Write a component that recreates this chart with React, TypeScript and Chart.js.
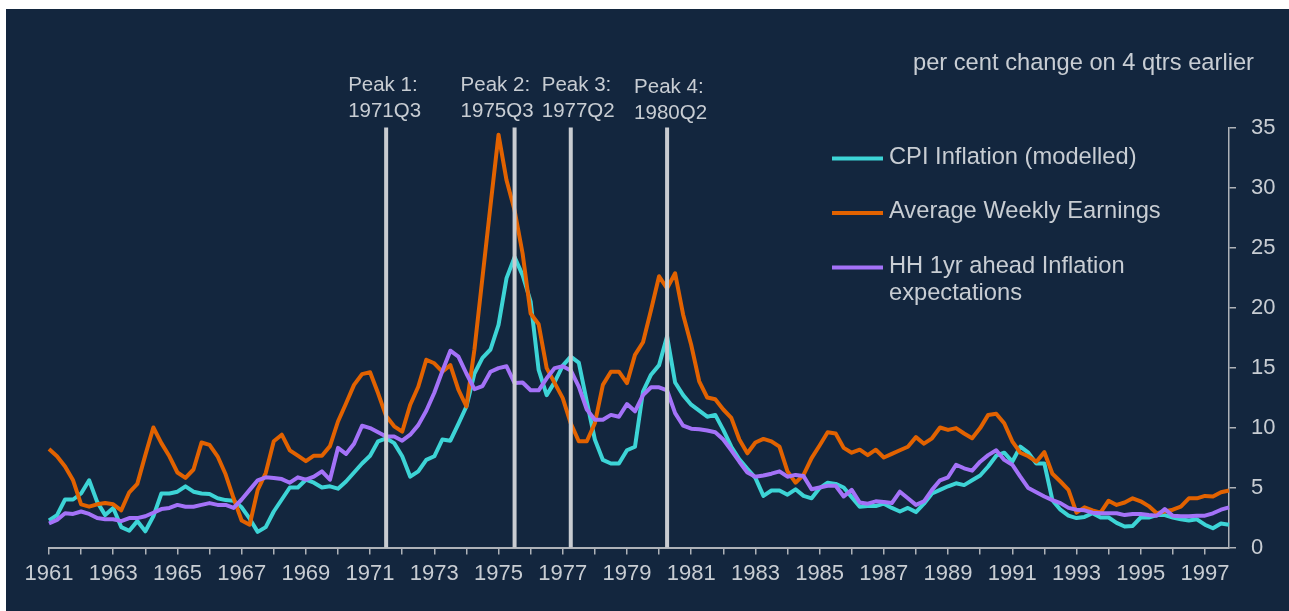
import React, { useEffect, useRef } from 'react';
import { Chart, registerables } from 'chart.js';

Chart.register(...registerables);

// ---------- DATA ----------
const START_YEAR = 1961;
const QUARTER_COUNT = 148; // 1961Q1 .. 1997Q4
const quarters: string[] = [];
for (let i = 0; i < QUARTER_COUNT; i++) {
  quarters.push(`${START_YEAR + Math.floor(i / 4)}Q${(i % 4) + 1}`);
}

const seriesNames = ['CPI Inflation (modelled)', 'Average Weekly Earnings', 'HH 1yr ahead Inflation expectations'];

const cpiInflation = [
  2.25, 2.7, 4.0, 4.0, 4.5, 5.6, 3.8, 2.7, 3.3, 1.7, 1.4, 2.2, 1.35, 2.6, 4.5, 4.5, 4.65, 5.1, 4.65, 4.5, 4.45, 4.1, 3.95, 3.9, 3.35, 2.4,
  1.3, 1.7, 3.0, 4.0, 5.0, 5.0, 5.65, 5.4, 5.0, 5.1, 4.9, 5.5, 6.25, 7.0, 7.65, 8.85, 9.1, 8.7, 7.6, 5.9, 6.35, 7.3, 7.6, 9.0,
  8.9, 10.3, 11.75, 14.5, 15.8, 16.5, 18.55, 22.45, 24.2, 22.7, 20.5, 14.8, 12.7, 13.8, 15.15, 15.9, 15.4, 12.15, 9.0, 7.3, 7.0, 7.0, 8.1,
  8.4, 13.0, 14.4, 15.2, 17.6, 13.75, 12.7, 11.9, 11.4, 10.9, 11.05, 9.8, 8.4, 7.35, 6.55, 5.8, 4.3, 4.75, 4.75, 4.4, 4.85, 4.3, 4.1,
  4.95, 5.4, 5.3, 5.0, 4.2, 3.4, 3.45, 3.45, 3.65, 3.3, 3.0, 3.3, 2.95, 3.65, 4.5, 4.8, 5.1, 5.35, 5.2, 5.6, 6.0, 6.75, 7.65, 7.9, 7.15,
  8.4, 7.9, 7.0, 7.0, 3.95, 3.15, 2.65, 2.45, 2.55, 2.85, 2.5, 2.5, 2.05, 1.75, 1.8, 2.5, 2.5, 2.7, 2.7, 2.5, 2.35, 2.25, 2.35, 1.9, 1.6, 2.0, 1.9,
];

const averageWeeklyEarnings = [
  8.2, 7.6, 6.75, 5.6, 3.6, 3.4, 3.6, 3.7, 3.6, 3.1, 4.6, 5.3, 7.7, 10.0, 8.7, 7.6, 6.25, 5.8, 6.5, 8.75, 8.55, 7.6, 6.1, 4.1, 2.25, 1.9,
  4.8, 6.2, 8.85, 9.4, 8.1, 7.65, 7.2, 7.65, 7.65, 8.45, 10.5, 12.0, 13.55, 14.45, 14.6, 12.85, 10.95, 10.1, 9.65, 11.9, 13.4, 15.65, 15.35, 14.65,
  15.2, 13.15, 11.75, 16.5, 22.5, 28.5, 34.4, 30.6, 28.1, 24.5, 19.5, 18.6, 14.95, 13.7, 12.45, 10.35, 8.85, 8.85, 10.35, 13.55, 14.65, 14.65, 13.7,
  16.05, 17.1, 19.8, 22.6, 21.6, 22.85, 19.4, 16.9, 13.85, 12.5, 12.35, 11.5, 10.8, 9.0, 7.85, 8.75, 9.05, 8.85, 8.4, 6.35, 5.4, 6.05, 7.45,
  8.5, 9.6, 9.5, 8.3, 7.9, 8.15, 7.7, 8.15, 7.5, 7.8, 8.1, 8.4, 9.2, 8.65, 9.1, 10.0, 9.8, 9.95, 9.5, 9.1, 9.95, 11.05, 11.15, 10.35, 8.85,
  7.9, 7.6, 7.15, 7.95, 6.15, 5.5, 4.8, 2.9, 3.35, 3.1, 2.9, 3.9, 3.55, 3.75, 4.1, 3.85, 3.45, 2.85, 3.0, 3.15, 3.4, 4.1, 4.1, 4.3, 4.25, 4.6, 4.75,
];

const hhInflationExpectations = [
  2.0, 2.3, 2.85, 2.8, 3.0, 2.8, 2.45, 2.35, 2.35, 2.2, 2.45, 2.45, 2.6, 2.9, 3.2, 3.3, 3.55, 3.4, 3.4, 3.55, 3.7, 3.55, 3.55, 3.3, 4.0, 4.8,
  5.6, 5.85, 5.8, 5.7, 5.4, 5.85, 5.65, 5.9, 6.35, 5.65, 8.3, 7.8, 8.65, 10.15, 9.95, 9.6, 9.25, 9.25, 8.9, 9.4, 10.2, 11.4, 12.9, 14.7,
  16.4, 15.9, 14.5, 13.2, 13.45, 14.65, 14.95, 15.1, 13.7, 13.75, 13.1, 13.1, 14.1, 14.95, 15.1, 14.75, 13.4, 11.5, 10.65, 10.65, 11.05, 10.9, 11.95,
  11.35, 12.7, 13.35, 13.35, 13.1, 11.2, 10.15, 9.9, 9.85, 9.75, 9.6, 9.0, 8.1, 7.15, 6.25, 5.9, 6.0, 6.15, 6.35, 5.9, 6.05, 5.95, 4.85,
  5.0, 5.15, 5.15, 4.25, 4.8, 3.75, 3.65, 3.85, 3.8, 3.7, 4.65, 4.1, 3.55, 3.85, 4.8, 5.6, 5.85, 6.9, 6.6, 6.4, 7.15, 7.7, 8.1, 7.3, 6.9,
  5.9, 4.95, 4.6, 4.25, 3.95, 3.7, 3.3, 3.15, 3.1, 2.9, 2.85, 2.85, 2.85, 2.7, 2.8, 2.8, 2.7, 2.65, 3.2, 2.65, 2.6, 2.6, 2.65, 2.65, 2.85, 3.15, 3.35,
];

const peakQuarters = ['1971Q3', '1975Q3', '1977Q2', '1980Q2'];
const peakNames = ['Peak 1:', 'Peak 2:', 'Peak 3:', 'Peak 4:'];

const Y_MIN = 0;
const Y_MAX = 35;
const Y_STEP = 5;
const subtitle = 'per cent change on 4 qtrs earlier';

// ---------- STYLE ----------
const BG = '#13263e';
const TEXT = '#c8cdd3';
const AXIS = '#aeb2b8';
const PEAK_LINE = '#c9ccd1';
const COLORS = ['#3dd4d6', '#e26200', '#a472f8'];
const FONT = '"Liberation Sans", Arial, sans-serif';
// per-peak label placement (x offset from line, y shift), layout only
const peakLabelDx = [-38, -54, -29, -33];
const peakLabelDy = [0, 0, 0, 2];

const bgPlugin = {
  id: 'bgPanel',
  beforeDraw(chart: any) {
    const { ctx, width, height } = chart;
    ctx.save();
    ctx.fillStyle = '#ffffff';
    ctx.fillRect(0, 0, width, height);
    ctx.fillStyle = BG;
    ctx.fillRect(6, 9, width - 6, height - 9);
    ctx.restore();
  },
};

const peaksPlugin = {
  id: 'peaks',
  afterDatasetsDraw(chart: any) {
    const { ctx } = chart;
    const xs = chart.scales.x;
    const ys = chart.scales.y;
    ctx.save();
    peakQuarters.forEach((q, k) => {
      const idx = quarters.indexOf(q);
      const x = xs.getPixelForValue(idx);
      ctx.strokeStyle = PEAK_LINE;
      ctx.lineWidth = 4;
      ctx.lineCap = 'butt';
      ctx.beginPath();
      ctx.moveTo(x, ys.getPixelForValue(Y_MAX));
      ctx.lineTo(x, ys.getPixelForValue(Y_MIN));
      ctx.stroke();
      ctx.fillStyle = TEXT;
      ctx.font = `20.5px ${FONT}`;
      ctx.textAlign = 'left';
      ctx.textBaseline = 'middle';
      const lx = x + peakLabelDx[k];
      ctx.fillText(peakNames[k], lx, 85 + peakLabelDy[k]);
      ctx.fillText(q, lx, 111 + peakLabelDy[k]);
    });
    ctx.restore();
  },
};

const legendPlugin = {
  id: 'customLegend',
  afterDraw(chart: any) {
    const { ctx } = chart;
    ctx.save();
    ctx.font = `23.7px ${FONT}`;
    ctx.fillStyle = TEXT;
    ctx.textBaseline = 'middle';
    ctx.textAlign = 'right';
    ctx.fillText(subtitle, 1254, 63);
    ctx.textAlign = 'left';
    const rows = [
      { lines: ['CPI Inflation (modelled)'], y: 157 },
      { lines: ['Average Weekly Earnings'], y: 211.5 },
      { lines: ['HH 1yr ahead Inflation', 'expectations'], y: 266 },
    ];
    rows.forEach((r, i) => {
      ctx.strokeStyle = COLORS[i];
      ctx.lineWidth = 4;
      ctx.beginPath();
      ctx.moveTo(832, r.y + 1.5);
      ctx.lineTo(883, r.y + 1.5);
      ctx.stroke();
      ctx.fillStyle = TEXT;
      r.lines.forEach((t, j) => ctx.fillText(t, 889, r.y + j * 27));
    });
    ctx.restore();
  },
};

export default function App() {
  const ref = useRef<HTMLCanvasElement | null>(null);

  useEffect(() => {
    if (!ref.current) return;
    Chart.defaults.font.family = FONT;
    const seriesData = [cpiInflation, averageWeeklyEarnings, hhInflationExpectations];
    const drawOrder = [2, 1, 0];
    const chart = new Chart(ref.current, {
      type: 'line',
      data: {
        labels: quarters,
        datasets: seriesData.map((d, i) => ({
          label: seriesNames[i],
          data: d,
          borderColor: COLORS[i],
          backgroundColor: COLORS[i],
          borderWidth: 4,
          borderJoinStyle: 'round',
          pointRadius: 0,
          tension: 0,
          fill: false,
          order: drawOrder[i],
        })),
      },
      options: {
        responsive: false,
        animation: false,
        layout: { padding: { left: 49, top: 127.5, right: 0, bottom: 0 } },
        plugins: { legend: { display: false }, tooltip: { enabled: false } },
        scales: {
          x: {
            type: 'category',
            offset: false,
            grid: {
              display: true,
              drawOnChartArea: false,
              drawTicks: true,
              tickLength: 7,
              lineWidth: 1.5,
              color: (c: any) => (c.index % 4 === 0 ? AXIS : 'rgba(0,0,0,0)'),
            },
            border: { display: true, color: AXIS, width: 2 },
            ticks: {
              autoSkip: false,
              maxRotation: 0,
              minRotation: 0,
              padding: 6,
              color: TEXT,
              font: { size: 22, family: FONT },
              callback: (_v: any, i: number) => (i % 8 === 0 ? quarters[i].slice(0, 4) : ''),
            },
            afterFit: (s: any) => {
              s.height = 63.5;
            },
          },
          y: {
            position: 'right',
            min: Y_MIN,
            max: Y_MAX,
            ticks: { stepSize: Y_STEP, padding: 15, color: TEXT, font: { size: 22, family: FONT } },
            grid: { drawOnChartArea: false, drawTicks: true, tickLength: 7, color: AXIS, lineWidth: 1.5 },
            border: { display: true, color: AXIS, width: 1.5 },
            afterFit: (s: any) => {
              s.width = 60;
            },
          },
        },
      },
      plugins: [bgPlugin, peaksPlugin, legendPlugin],
    } as any);
    return () => chart.destroy();
  }, []);

  return (
    <canvas
      ref={ref}
      width={1289}
      height={611}
      style={{ position: 'fixed', left: 0, top: 0, width: 1289, height: 611, display: 'block' }}
    />
  );
}
